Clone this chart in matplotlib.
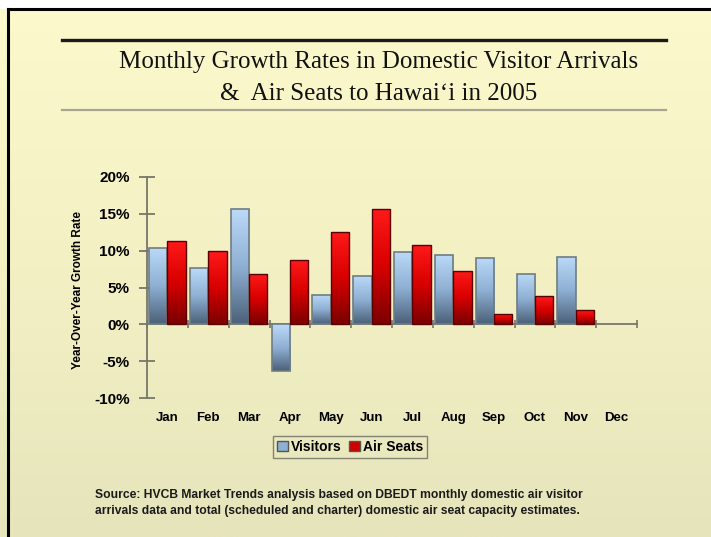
import numpy as np
import matplotlib.pyplot as plt
from matplotlib.colors import LinearSegmentedColormap
from matplotlib.patches import Patch

months = ['Jan', 'Feb', 'Mar', 'Apr', 'May', 'Jun', 'Jul', 'Aug', 'Sep', 'Oct', 'Nov', 'Dec']
visitors = [10.4, 7.6, 15.6, -6.3, 4.0, 6.6, 9.8, 9.4, 9.0, 6.9, 9.2, np.nan]
air_seats = [11.3, 9.9, 6.9, 8.8, 12.6, 15.7, 10.8, 7.3, 1.4, 3.8, 1.9, np.nan]
yticks = [-10, -5, 0, 5, 10, 15, 20]

title = 'Monthly Growth Rates in Domestic Visitor Arrivals\n&  Air Seats to Hawai\u2018i in 2005'
source = ('Source: HVCB Market Trends analysis based on DBEDT monthly domestic air visitor\n'
          'arrivals data and total (scheduled and charter) domestic air seat capacity estimates.')

sans = ['Liberation Sans', 'DejaVu Sans']
serif = ['Liberation Serif', 'DejaVu Serif']

W, H = 711, 537
fig = plt.figure(figsize=(W / 100, H / 100), dpi=100)
fig.patch.set_facecolor('white')

# slide background with soft yellow gradient
bg = fig.add_axes([0, 0, 1, 1], zorder=-5)
bg_cmap = LinearSegmentedColormap.from_list('bg', ['#fcfacd', '#f3f1c4', '#e6e4bb'])
grad = np.linspace(0, 1, 256).reshape(-1, 1)
bg.imshow(grad, cmap=bg_cmap, aspect='auto', extent=[0, W, H, 0])
bg.set_xlim(0, W)
bg.set_ylim(H, 0)
bg.axis('off')
bg.fill_between([0, W], 0, 8, color='white', zorder=2)
bg.plot([8, W], [9, 9], color='black', lw=2.2, zorder=3)
bg.plot([8, 8], [9, H], color='black', lw=2.2, zorder=3)
bg.plot([62, 666], [40, 40], color='#1a1a1a', lw=2.4, zorder=3)
bg.plot([62, 666], [110, 110], color='#a8a690', lw=1.6, zorder=3)

fig.text(0.533, 1 - 78 / H, title, ha='center', va='center', family=serif,
         fontsize=18, color='#111111', linespacing=1.55)

ax = fig.add_axes([147 / W, 1 - 398 / H, 490 / W, 221 / H])
ax.set_facecolor('none')

x = np.arange(len(months))
w = 0.45
blue_cmap = LinearSegmentedColormap.from_list('blue', ['#bcdaf8', '#8fb0d4', '#4b6078'])
red_cmap = LinearSegmentedColormap.from_list('red', ['#ff1a1a', '#d80000', '#7a0000'])

bars_v = ax.bar(x - w / 2, visitors, w, color='none', edgecolor='#6f7d84', lw=1.2, zorder=3)
bars_a = ax.bar(x + w / 2, air_seats, w, color='none', edgecolor='#5a0000', lw=1.0, zorder=3)

# fill each bar with a vertical gradient
for bars, cmap in [(bars_v, blue_cmap), (bars_a, red_cmap)]:
    for b in bars:
        h = b.get_height()
        if np.isnan(h):
            continue
        x0 = b.get_x()
        y0, y1 = b.get_y(), b.get_y() + h
        top, bot = max(y0, y1), min(y0, y1)
        im = ax.imshow(grad, cmap=cmap, aspect='auto',
                       extent=[x0, x0 + b.get_width(), bot, top], zorder=2)
        im.set_clip_path(b)

ax.set_xlim(-0.5, len(months) - 0.5)
ax.set_ylim(-10, 20)

for s in ['top', 'right', 'bottom']:
    ax.spines[s].set_visible(False)
ax.spines['left'].set_color('#77776a')
ax.spines['left'].set_linewidth(1.3)

ax.set_yticks(yticks)
ax.set_yticklabels([f'{t}%' for t in yticks], family=sans, fontweight='bold', fontsize=11)
ax.tick_params(axis='y', direction='inout', length=11, width=1.3, color='#77776a', pad=7)

ax.set_xticks(x)
ax.set_xticklabels(months, family=sans, fontweight='bold', fontsize=9.5)
ax.tick_params(axis='x', length=0, pad=10)

# zero line with category boundary ticks
zero = ax.secondary_xaxis(10 / 30)
zero.set_xticks(np.arange(len(months) + 1) - 0.5)
zero.tick_params(direction='inout', length=6, width=1.2, color='#77776a', labelbottom=False)
zero.spines['bottom'].set_color('#77776a')
zero.spines['bottom'].set_linewidth(1.3)

fig.text(78 / W, 1 - 290 / H, 'Year-Over-Year Growth Rate', rotation=90, ha='center',
         va='center', family=sans, fontweight='bold', fontsize=8.5)

handles = [Patch(facecolor='#8fb0d4', edgecolor='#555555'),
           Patch(facecolor='#d00000', edgecolor='#555555')]
leg = fig.legend(handles, ['Visitors', 'Air Seats'], loc='center', ncol=2,
                 bbox_to_anchor=(350 / W, 1 - 447 / H), frameon=True, fancybox=False,
                 prop={'family': sans, 'weight': 'bold', 'size': 10},
                 handlelength=0.8, handleheight=0.8, handletextpad=0.2, columnspacing=0.5,
                 borderpad=0.3)
leg.get_frame().set_edgecolor('#6a6a60')
leg.get_frame().set_facecolor('none')
leg.get_frame().set_linewidth(1.0)

fig.text(95 / W, 1 - 503 / H, source, ha='left', va='center', family=sans,
         fontweight='bold', fontsize=8.7, color='#1a1a1a', linespacing=1.4)

fig.savefig('out.png', dpi=100, facecolor=fig.get_facecolor())
